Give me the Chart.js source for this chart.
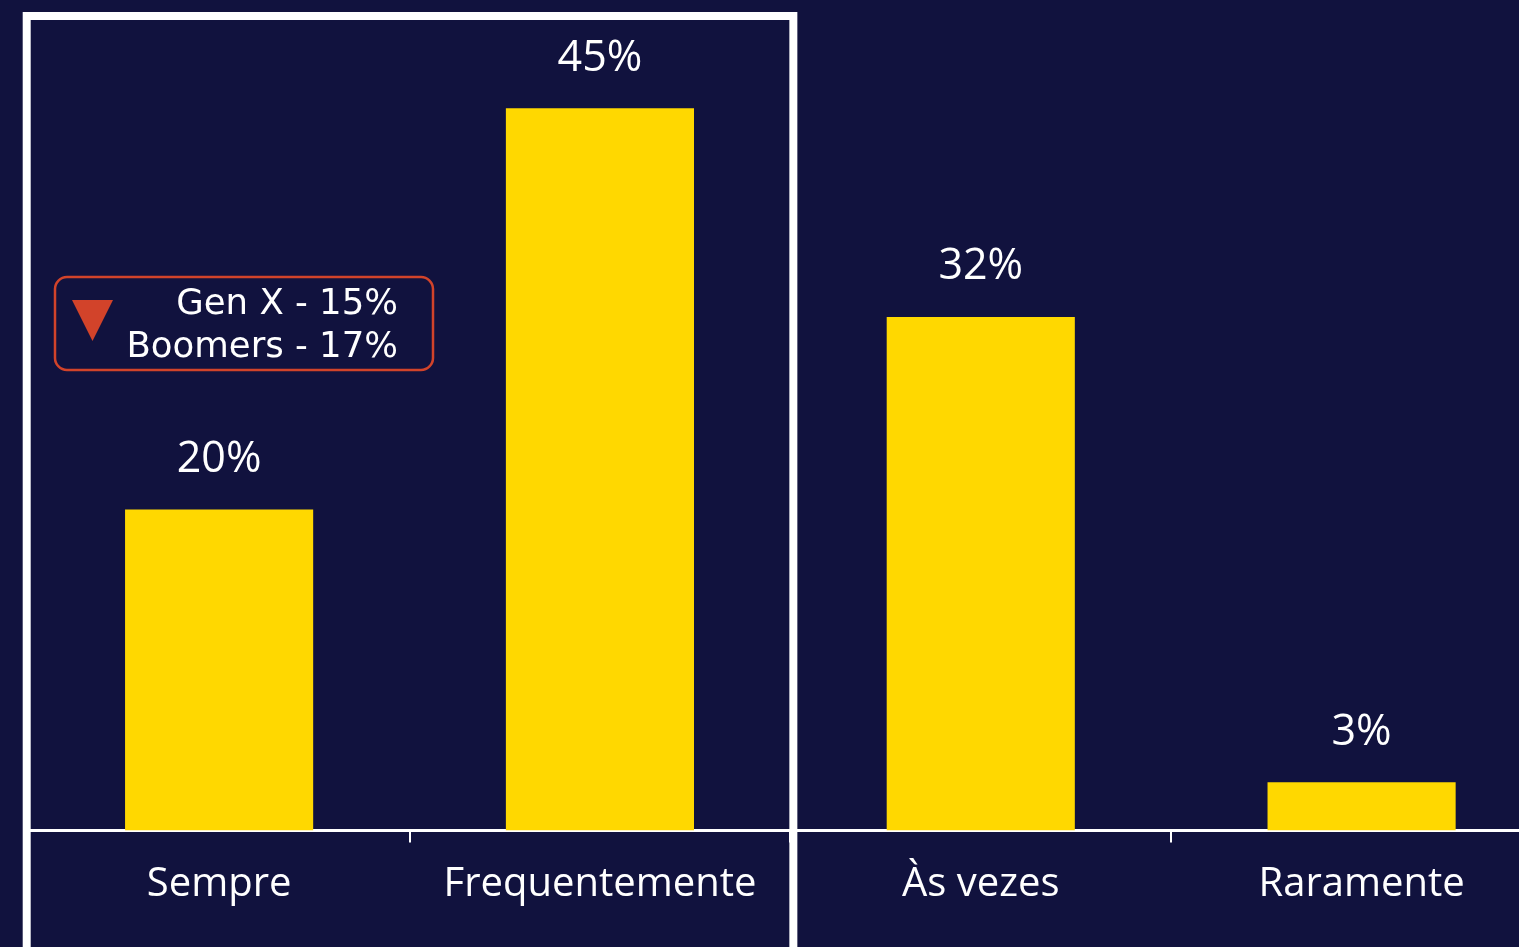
<!DOCTYPE html>
<html>
<head>
<meta charset="utf-8">
<script src="https://cdn.jsdelivr.net/npm/chart.js@4.4.1/dist/chart.umd.min.js"></script>
<style>
html,body{margin:0;padding:0;background:#11123e;overflow:hidden;}
#wrap{width:1552px;height:947px;}
</style>
</head>
<body>
<div id="wrap"><canvas id="chart" width="1552" height="947"></canvas></div>
<script>
// DADOS
const categorias = ["Sempre","Frequentemente","Às vezes","Raramente"];
const valores = [20,45,32,3];
const rotulos = ["20%","45%","32%","3%"];
const notaLinhas = ["Gen X - 15%","Boomers - 17%"];
const yMax = 50;

const FUNDO = "#11123e";
const AMARELO = "#ffd800";
const VERMELHO = "#d2432a";
const FONTE = "'Open Sans', sans-serif";

// ROTULOS EM CIMA DAS BARRAS
const rotulosPlugin = {
  id:"rotulos",
  afterDatasetsDraw(chart){
    let ctx = chart.ctx;
    let meta = chart.getDatasetMeta(0);
    ctx.save();
    ctx.fillStyle="#fff";
    ctx.font="43px "+FONTE;
    ctx.textAlign="center";
    ctx.textBaseline="middle";
    meta.data.forEach((bar,i)=>{
      ctx.fillText(rotulos[i], bar.x, bar.y-50);
    });
    ctx.restore();
  }
};

// MOLDURA BRANCA + NOTA
const destaquePlugin = {
  id:"destaque",
  afterDraw(chart){
    let ctx = chart.ctx;
    let area = chart.chartArea;
    let passo = (area.right-area.left)/categorias.length;
    let l = area.left-2;
    let r = area.left+passo*2+3;

    ctx.save();
    ctx.strokeStyle="#fff";
    ctx.lineWidth=8;
    ctx.beginPath();
    ctx.moveTo(l, chart.height+10);
    ctx.lineTo(l, 16);
    ctx.lineTo(r, 16);
    ctx.lineTo(r, chart.height+10);
    ctx.stroke();

    // caixa da nota
    ctx.strokeStyle=VERMELHO;
    ctx.lineWidth=2.5;
    ctx.beginPath();
    ctx.roundRect(55,277,378,93,12);
    ctx.stroke();

    ctx.fillStyle=VERMELHO;
    ctx.beginPath();
    ctx.moveTo(72,300);
    ctx.lineTo(113,300);
    ctx.lineTo(92.5,341);
    ctx.closePath();
    ctx.fill();

    ctx.fillStyle="#fff";
    ctx.font="35.5px 'DejaVu Sans'";
    ctx.textAlign="right";
    ctx.textBaseline="middle";
    ctx.fillText(notaLinhas[0],398,305);
    ctx.fillText(notaLinhas[1],398,348);
    ctx.restore();
  }
};

let chart = new Chart(document.getElementById("chart"),{
  type:"bar",
  data:{
    labels:categorias,
    datasets:[{
      data:valores,
      backgroundColor:AMARELO,
      borderWidth:0,
      barPercentage:0.494,
      categoryPercentage:1
    }]
  },
  options:{
    responsive:false,
    animation:false,
    devicePixelRatio:1,
    layout:{padding:{left:28.7,top:28,right:0,bottom:0}},
    plugins:{legend:{display:false},tooltip:{enabled:false}},
    scales:{
      y:{display:false,min:0,max:yMax},
      x:{
        afterFit(s){ s.height=116.5; },
        border:{color:"#fff",width:3},
        grid:{offset:true,drawOnChartArea:false,drawTicks:true,tickLength:12,color:"#fff",lineWidth:2},
        ticks:{color:"#fff",font:{family:FONTE,size:40},padding:18,maxRotation:0,autoSkip:false}
      }
    }
  },
  plugins:[rotulosPlugin,destaquePlugin]
});
</script>
</body>
</html>
